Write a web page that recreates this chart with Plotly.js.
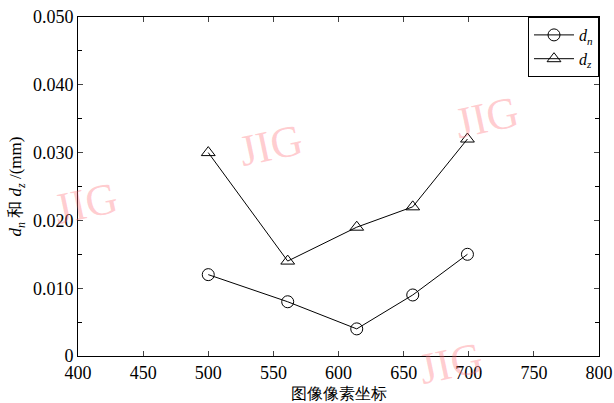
<!DOCTYPE html>
<html><head><meta charset="utf-8">
<script src="https://cdn.plot.ly/plotly-3.0.1.min.js"></script>
<style>body{margin:0;background:#fff}#c{width:614px;height:403px}</style>
</head><body><div id="c"></div>
<script>
const xPix = [500, 561, 614, 657, 699];
const dn = [0.012, 0.008, 0.004, 0.009, 0.015];
const dz = [0.030, 0.014, 0.019, 0.022, 0.032];
const yTicks = [0, 0.01, 0.02, 0.03, 0.04, 0.05];
const yTickText = ['0', '0.010', '0.020', '0.030', '0.040', '0.050'];
const yMinor = [0.005, 0.015, 0.025, 0.035, 0.045];
const xTicks = [400, 450, 500, 550, 600, 650, 700, 750, 800];

const serif = 'Liberation Serif';
const traces = [
  {x: xPix, y: dn, name: '<i>d</i><sub><i>n</i></sub>', mode: 'lines+markers',
   line: {color: '#000', width: 1},
   marker: {symbol: 'circle-open', size: 12, color: '#000', line: {width: 1}}},
  {x: xPix, y: dz, name: '<i>d</i><sub><i>z</i></sub>', mode: 'lines+markers',
   line: {color: '#000', width: 1},
   marker: {symbol: 'triangle-up-open', size: 12, color: '#000', line: {width: 1}}}
];
const wm = {font: {family: serif, size: 44, color: 'rgba(255,110,120,0.35)'}, showarrow: false, textangle: -12, xref: 'paper', yref: 'paper', text: 'JIG'};
const layout = {
  width: 614, height: 403,
  margin: {l: 78, r: 15, t: 17, b: 47},
  paper_bgcolor: '#fff', plot_bgcolor: '#fff',
  font: {family: serif, size: 18, color: '#000'},
  showlegend: true,
  legend: {x: 1, y: 1, xanchor: 'right', yanchor: 'top', bgcolor: '#fff',
    bordercolor: '#000', borderwidth: 1, font: {family: serif, size: 16},
    itemwidth: 40, tracegroupgap: 0},
  xaxis: {range: [400, 800], tickvals: xTicks, ticks: 'inside', ticklen: 5,
    showline: true, linecolor: '#000', linewidth: 1, mirror: 'ticks',
    showgrid: false, zeroline: false, tickfont: {family: serif, size: 18},
    title: {text: '图像像素坐标', font: {family: serif, size: 16}, standoff: 6}},
  yaxis: {range: [0, 0.05], tickvals: yTicks, ticktext: yTickText, ticks: 'inside', ticklen: 5,
    minor: {tickvals: yMinor, ticks: 'inside', ticklen: 4, tickcolor: '#000', showgrid: false},
    showline: true, linecolor: '#000', linewidth: 1, mirror: 'ticks',
    showgrid: false, zeroline: false, tickfont: {family: serif, size: 18},
    title: {text: '<i>d</i><sub><i>n</i></sub> 和 <i>d</i><sub><i>z</i></sub> /(mm)', font: {family: serif, size: 17}, standoff: 6}},
  annotations: [
    Object.assign({}, wm, {x: 0.37, y: 0.62}),
    Object.assign({}, wm, {x: 0.86, y: 0.8}),
    Object.assign({}, wm, {x: -0.06, y: 0.45}),
    Object.assign({}, wm, {x: 0.79, y: -0.12})
  ]
};
Plotly.newPlot('c', traces, layout, {displayModeBar: false, staticPlot: true});
</script></body></html>
